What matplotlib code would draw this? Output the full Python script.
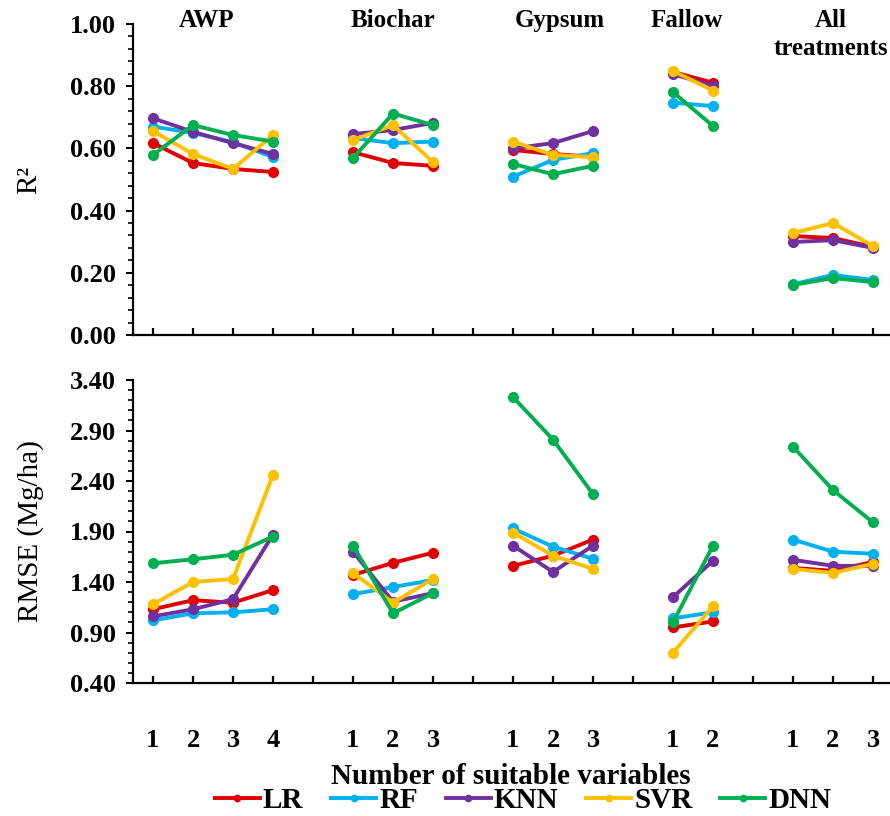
import numpy as np
import matplotlib.pyplot as plt
from matplotlib.ticker import MultipleLocator
from matplotlib.lines import Line2D

plt.rcParams['font.family'] = ['Liberation Serif', 'DejaVu Serif']
plt.rcParams['font.weight'] = 'bold'

groups = ['AWP', 'Biochar', 'Gypsum', 'Fallow', 'All\ntreatments']
n_vars = [4, 3, 3, 2, 3]
models = ['LR', 'RF', 'KNN', 'SVR', 'DNN']
colors = ['#E00000', '#00B0F0', '#7030A0', '#FFC000', '#00B050']

# R2, values listed group by group (AWP 1-4, Biochar 1-3, Gypsum 1-3, Fallow 1-2, All 1-3)
r2_lr = [0.617, 0.553, 0.534, 0.524, 0.588, 0.553, 0.544, 0.595, 0.582, 0.573, 0.846, 0.811, 0.318, 0.312, 0.283]
r2_rf = [0.670, 0.650, 0.620, 0.572, 0.633, 0.617, 0.622, 0.509, 0.563, 0.585, 0.747, 0.736, 0.163, 0.193, 0.177]
r2_knn = [0.697, 0.653, 0.617, 0.582, 0.646, 0.659, 0.682, 0.600, 0.617, 0.656, 0.839, 0.801, 0.299, 0.305, 0.280]
r2_svr = [0.656, 0.582, 0.534, 0.643, 0.627, 0.675, 0.556, 0.622, 0.579, 0.572, 0.849, 0.786, 0.328, 0.360, 0.286]
r2_dnn = [0.579, 0.675, 0.643, 0.622, 0.569, 0.712, 0.675, 0.550, 0.517, 0.544, 0.781, 0.672, 0.161, 0.183, 0.170]

# RMSE (Mg/ha)
rmse_lr = [1.13, 1.22, 1.195, 1.32, 1.47, 1.59, 1.69, 1.56, 1.66, 1.82, 0.95, 1.01, 1.54, 1.51, 1.60]
rmse_rf = [1.02, 1.09, 1.10, 1.13, 1.28, 1.35, 1.42, 1.93, 1.75, 1.63, 1.04, 1.10, 1.82, 1.70, 1.68]
rmse_knn = [1.06, 1.13, 1.23, 1.87, 1.70, 1.205, 1.29, 1.76, 1.50, 1.76, 1.25, 1.61, 1.62, 1.56, 1.56]
rmse_svr = [1.18, 1.40, 1.43, 2.46, 1.49, 1.195, 1.43, 1.89, 1.66, 1.53, 0.70, 1.16, 1.53, 1.49, 1.58]
rmse_dnn = [1.585, 1.625, 1.67, 1.85, 1.76, 1.09, 1.29, 3.23, 2.81, 2.27, 1.00, 1.76, 2.74, 2.31, 1.99]

r2_all = [r2_lr, r2_rf, r2_knn, r2_svr, r2_dnn]
rmse_all = [rmse_lr, rmse_rf, rmse_knn, rmse_svr, rmse_dnn]

# x positions: one empty slot between groups
pos = []
start = 0
for n in n_vars:
    pos.append(list(range(start, start + n)))
    start += n + 1
n_slots = start - 1
tick_labels = []
for i, n in enumerate(n_vars):
    tick_labels += [str(k) for k in range(1, n + 1)]
    if i < len(n_vars) - 1:
        tick_labels.append('')

W, H = 890, 816
fig = plt.figure(figsize=(W / 100, H / 100), dpi=100)

def px_axes(l, t, r, b):
    return fig.add_axes([l / W, 1 - b / H, (r - l) / W, (b - t) / H])

ax1 = px_axes(133, 24, 890, 335)
ax2 = px_axes(133, 380, 890, 683)

for ax, data in [(ax1, r2_all), (ax2, rmse_all)]:
    for vals, c in zip(data, colors):
        k = 0
        for p in pos:
            ax.plot(p, vals[k:k + len(p)], color=c, lw=2.8, marker='o', ms=7, solid_capstyle='round')
            k += len(p)
    ax.set_xlim(-0.5, -0.5 + 757 / 40)
    ax.set_xticks(range(n_slots))
    ax.spines['top'].set_visible(False)
    ax.spines['right'].set_visible(False)
    for s in ['left', 'bottom']:
        ax.spines[s].set_linewidth(1.6)
    ax.tick_params(axis='x', direction='in', length=5, width=1.6)
    ax.tick_params(axis='y', which='major', direction='out', length=5, width=1.4, labelsize=19, pad=7)
    ax.tick_params(axis='y', which='minor', direction='out', length=3.5, width=1.2)

ax1.set_ylim(0, 1.0)
ax1.yaxis.set_minor_locator(MultipleLocator(0.04))
ax1.set_yticks(np.arange(0, 1.01, 0.2))
ax1.set_yticklabels(['%.2f' % v for v in np.arange(0, 1.01, 0.2)])
ax1.set_xticklabels([])

ax2.set_ylim(0.4, 3.4)
ax2.set_yticks(np.arange(0.4, 3.41, 0.5))
ax2.set_yticklabels(['%.2f' % v for v in np.arange(0.4, 3.41, 0.5)])
ax2.yaxis.set_minor_locator(MultipleLocator(0.1))
ax2.set_xticklabels(tick_labels, fontsize=19)
ax2.tick_params(axis='x', pad=33)

ax1.set_ylabel('R²', fontsize=21)
ax1.yaxis.set_label_coords((42 - 133) / 757, 0.5)
ax2.set_ylabel('RMSE (Mg/ha)', fontsize=21)
ax2.yaxis.set_label_coords((44 - 133) / 757, 0.5)

title_x = [207, 393, 560, 687, 831]
for g, xp in zip(groups, title_x):
    fig.text(xp / W, 1 - 9 / H, g, ha='center', va='top', fontsize=18, linespacing=1.3)

fig.text(511 / W, 1 - 776 / H, 'Number of suitable variables', ha='center', va='center', fontsize=21)

handles = [Line2D([], [], color=c, lw=2.8, marker='o', ms=4.5) for c in colors]
fig.legend(handles, models, loc='center', bbox_to_anchor=(523 / W, 1 - 801 / H), ncol=5,
           frameon=False, fontsize=21, handlelength=1.55, handletextpad=0.1, columnspacing=0.95,
           borderpad=0, borderaxespad=0)

fig.savefig('out.png', dpi=100)
